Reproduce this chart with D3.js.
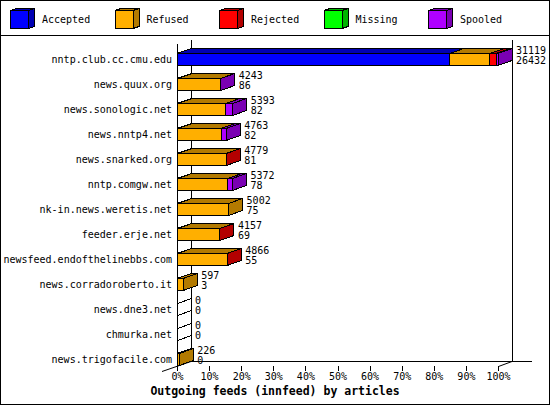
<!DOCTYPE html>
<html>
<head>
<meta charset="utf-8">
<script src="https://cdn.jsdelivr.net/npm/d3@7"></script>
<style>
	body { margin: 0; background: #fff; }
	svg { display: block; }
	text { font-family: "DejaVu Sans Mono", monospace; font-size: 10px; fill: #000; }
</style>
</head>
<body>
<div id="feedView"></div>
<script>
let hosts = ["nntp.club.cc.cmu.edu", "news.quux.org", "news.sonologic.net", "news.nntp4.net",
	"news.snarked.org", "nntp.comgw.net", "nk-in.news.weretis.net", "feeder.erje.net",
	"newsfeed.endofthelinebbs.com", "news.corradoroberto.it", "news.dne3.net", "chmurka.net",
	"news.trigofacile.com"]
let offered  = [31119, 4243, 5393, 4763, 4779, 5372, 5002, 4157, 4866, 597, 0, 0, 226]
let accepted = [26432, 86, 82, 82, 81, 78, 75, 69, 55, 3, 0, 0, 0]
let refused  = [3900, 4140, 4650, 4200, 4690, 4840, 4927, 4080, 4800, 594, 0, 0, 226]
let rejected = [600, 0, 0, 0, 8, 0, 0, 8, 11, 0, 0, 0, 0]
let missing  = [0, 0, 0, 0, 0, 0, 0, 0, 0, 0, 0, 0, 0]
let spooled  = [187, 17, 661, 481, 0, 454, 0, 0, 0, 0, 0, 0, 0]

let series = ["Accepted", "Refused", "Rejected", "Missing", "Spooled"]
let colors = ["#0000ff", "#ffaf00", "#ff0000", "#00ff00", "#af00ff"]
let pctTicks = [0, 10, 20, 30, 40, 50, 60, 70, 80, 90, 100]
let title = "Outgoing feeds (innfeed) by articles"

function FeedView() {
	let dim = {width: 550, height: 405, left: 177, right: 498, rowTop: 59, step: 25, bar: 12, dx: 14, dy: 5, base: 366}

	let svg, rows, layers
	let xScale = d3.scaleLinear().range([dim.left, dim.right])
	let pctScale = d3.scaleLinear().domain([0, 100]).range([dim.left, dim.right])
	let yScale = d3.scalePoint().padding(0)
	let color = d3.scaleOrdinal().domain(series).range(colors)
	let pctAxis = d3.axisBottom(pctScale).tickValues(pctTicks).tickFormat(d => d + "%").tickSize(5).tickPadding(2)

	this.init = function() {
		initData()
		initView()
		makeFrame()
		makeBars()
		makeLegend()
	}

	function initData() {
		rows = hosts.map((h, i) => ({host: h, total: offered[i], Accepted: accepted[i], Refused: refused[i],
			Rejected: rejected[i], Missing: missing[i], Spooled: spooled[i]}))
		layers = d3.stack().keys(series)(rows)
		xScale.domain([0, d3.max(offered)])
		yScale.domain(hosts).range([dim.rowTop, dim.rowTop + dim.step * (hosts.length - 1)])
	}

	function initView() {
		svg = d3.select("#feedView")
			.append("svg")
			.attr("width", dim.width)
			.attr("height", dim.height)
			.attr("shape-rendering", "crispEdges")

		svg.append("rect")
			.attr("x", 0.5).attr("y", 0.5)
			.attr("width", dim.width - 1).attr("height", dim.height - 1)
			.attr("fill", "#fff").attr("stroke", "#000")

		svg.append("line")
			.attr("x1", 0).attr("x2", dim.width)
			.attr("y1", 35.5).attr("y2", 35.5)
			.attr("stroke", "#000")
	}

	function makeFrame() {
		let g = svg.append("g").attr("stroke", "#000").attr("fill", "none")
		let backY = dim.base - dim.dy
		// back wall verticals + floor edge
		g.append("line").attr("x1", dim.left + dim.dx + 0.5).attr("x2", dim.left + dim.dx + 0.5).attr("y1", 40).attr("y2", backY)
		g.append("line").attr("x1", dim.right + dim.dx + 0.5).attr("x2", dim.right + dim.dx + 0.5).attr("y1", 40).attr("y2", backY)
		g.append("line").attr("x1", dim.left + dim.dx).attr("x2", 532).attr("y1", backY + 0.5).attr("y2", backY + 0.5)
		// front axis
		g.append("line").attr("x1", dim.left + 0.5).attr("x2", dim.left + 0.5).attr("y1", 44).attr("y2", dim.base)
		g.append("path").attr("shape-rendering", "auto")
			.attr("d", `M${dim.left - dim.dx - 1},${dim.base + dim.dy + 0.5}L${dim.left + dim.dx},${backY + 0.5}`)
		g.append("path").attr("shape-rendering", "auto")
			.attr("d", `M${dim.right + 0.5},${dim.base + 0.5}L${dim.right + dim.dx},${backY + 0.5}`)

		let ax = svg.append("g")
			.attr("transform", "translate(0," + dim.base + ")")
			.call(pctAxis)
		ax.select(".domain").remove()
		ax.selectAll("text").attr("font-family", "DejaVu Sans Mono, monospace").attr("font-size", 10).attr("fill", "#000")

		svg.append("text")
			.attr("x", 275).attr("y", 395)
			.attr("text-anchor", "middle")
			.style("font-size", "11.5px").style("font-weight", "bold")
			.text(title)
	}

	function face(pts) {
		return "M" + pts.map(p => p.join(",")).join("L") + "Z"
	}

	function makeBars() {
		let g = svg.append("g").attr("stroke", "#000").attr("stroke-width", 1)

		rows.forEach((r, i) => {
			let yc = yScale(r.host)
			let top = yc - dim.bar / 2 + 0.5, bot = yc + dim.bar / 2 + 0.5
			let last = null
			layers.forEach(layer => {
				let seg = layer[i]
				if (seg[1] - seg[0] <= 0) return
				let x0 = xScale(seg[0]), x1 = xScale(seg[1])
				let c = color(layer.key)
				g.append("path").attr("fill", d3.color(c).darker(1))
					.attr("d", face([[x0, top], [x0 + dim.dx, top - dim.dy], [x1 + dim.dx, top - dim.dy], [x1, top]]))
				g.append("rect").attr("fill", c)
					.attr("x", x0).attr("y", top).attr("width", x1 - x0).attr("height", bot - top)
				last = {x1: x1, c: c}
			})
			let xe = last ? last.x1 : dim.left + 0.5
			g.append("path")
				.attr("fill", last ? d3.color(last.c).darker(1) : "#fff")
				.attr("d", face([[xe, top], [xe + dim.dx, top - dim.dy], [xe + dim.dx, bot - dim.dy], [xe, bot]]))

			let lx = xScale(r.total) + dim.dx + 4
			svg.append("text").attr("x", lx).attr("y", yc - 5).text(r.total)
			svg.append("text").attr("x", lx).attr("y", yc + 5).text(r.Accepted)
			svg.append("text").attr("x", 172).attr("y", yc + 4).attr("text-anchor", "end").text(r.host)
		})
	}

	function makeLegend() {
		let items = svg.selectAll("g.legend")
			.data(series)
			.enter()
				.append("g")
				.classed("legend", true)
				.attr("transform", (d, i) => `translate(${10 + i * 104.5},10)`)

		items.append("path")
			.attr("fill", d => d3.color(color(d)).darker(1)).attr("stroke", "#000")
			.attr("d", face([[18.5, 0.5], [24.5, -1.5], [24.5, 16.5], [18.5, 18.5]]))
		items.append("path")
			.attr("fill", d => d3.color(color(d)).darker(1)).attr("stroke", "#000")
			.attr("d", face([[0.5, 0.5], [6.5, -1.5], [24.5, -1.5], [18.5, 0.5]]))
		items.append("rect")
			.attr("x", 0.5).attr("y", 0.5).attr("width", 18).attr("height", 18)
			.attr("fill", d => color(d)).attr("stroke", "#000")
		items.append("text")
			.attr("x", 32).attr("y", 13)
			.text(d => d)
	}
}

new FeedView().init()
</script>
</body>
</html>
